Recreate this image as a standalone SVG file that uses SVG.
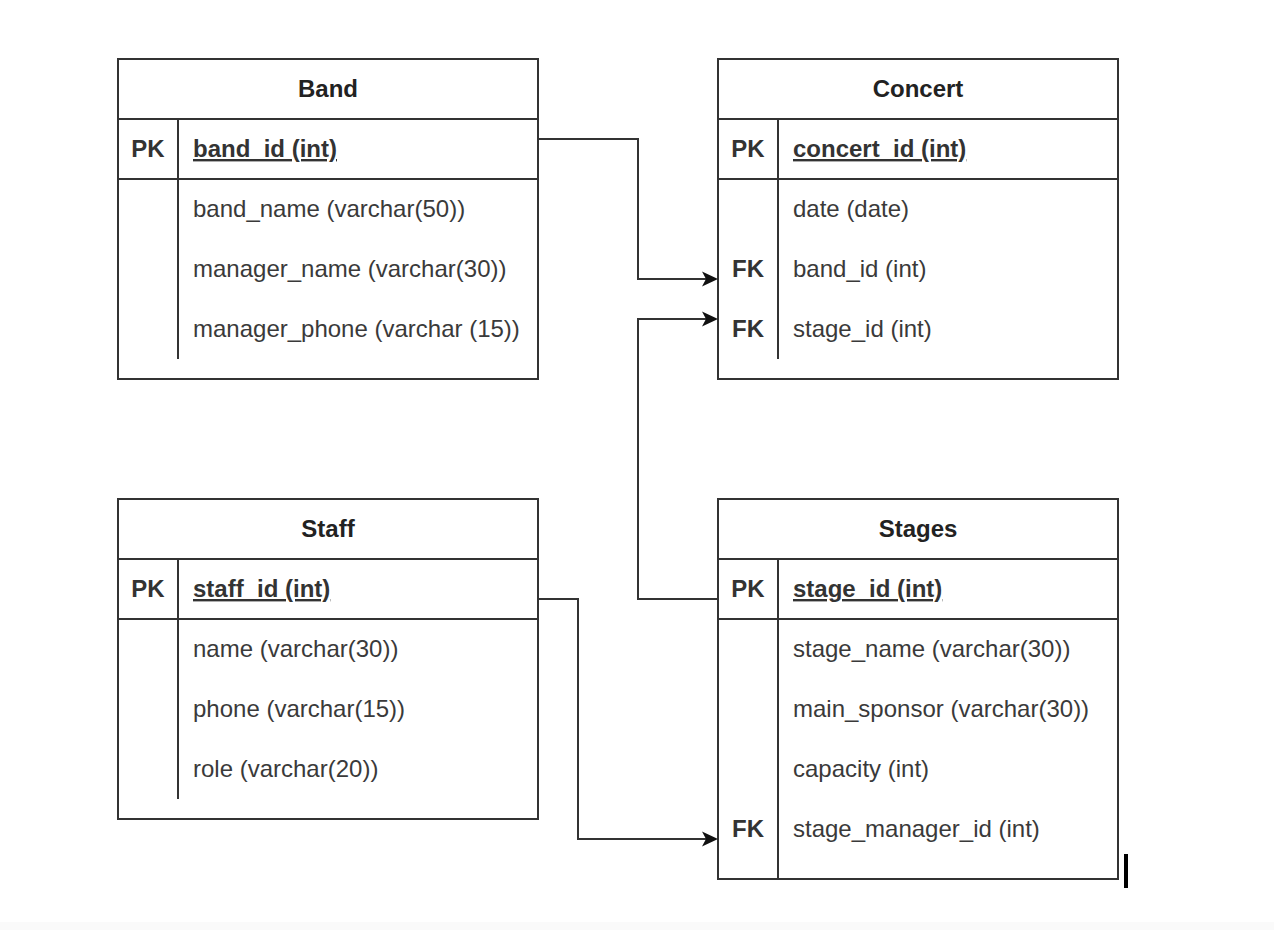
<svg xmlns="http://www.w3.org/2000/svg" width="1274" height="930" viewBox="0 0 1274 930">
  <style>
    .box { fill: #ffffff; stroke: #333333; stroke-width: 2; }
    .sep { stroke: #333333; stroke-width: 2; fill: none; }
    .title { font-family: "Liberation Sans", Arial, sans-serif; font-size: 24px; font-weight: bold; fill: #222222; text-anchor: middle; }
    .key { font-family: "Liberation Sans", Arial, sans-serif; font-size: 24px; font-weight: bold; fill: #333333; text-anchor: middle; }
    .pk { font-family: "Liberation Sans", Arial, sans-serif; font-size: 24px; font-weight: bold; fill: #333333; text-decoration: underline; }
    .field { font-family: "Liberation Sans", Arial, sans-serif; font-size: 24px; fill: #3a3a3a; }
    .link { stroke: #333333; stroke-width: 2; fill: none; }
    .head { fill: #111111; stroke: none; }
  </style>

  <rect x="0" y="0" width="1274" height="930" fill="#ffffff"/>
  <rect x="0" y="922" width="1274" height="8" fill="#fafafa"/>

  <!-- Band table -->
  <g id="band">
    <rect class="box" x="118" y="59" width="420" height="320"/>
    <line class="sep" x1="118" y1="119" x2="538" y2="119"/>
    <line class="sep" x1="118" y1="179" x2="538" y2="179"/>
    <line class="sep" x1="178" y1="119" x2="178" y2="359"/>
    <text class="title" x="328" y="97">Band</text>
    <text class="key" x="148" y="157">PK</text>
    <text class="pk" x="193" y="157">band_id (int)</text>
    <text class="field" x="193" y="217">band_name (varchar(50))</text>
    <text class="field" x="193" y="277">manager_name (varchar(30))</text>
    <text class="field" x="193" y="337">manager_phone (varchar (15))</text>
  </g>

  <!-- Concert table -->
  <g id="concert">
    <rect class="box" x="718" y="59" width="400" height="320"/>
    <line class="sep" x1="718" y1="119" x2="1118" y2="119"/>
    <line class="sep" x1="718" y1="179" x2="1118" y2="179"/>
    <line class="sep" x1="778" y1="119" x2="778" y2="359"/>
    <text class="title" x="918" y="97">Concert</text>
    <text class="key" x="748" y="157">PK</text>
    <text class="pk" x="793" y="157">concert_id (int)</text>
    <text class="field" x="793" y="217">date (date)</text>
    <text class="key" x="748" y="277">FK</text>
    <text class="field" x="793" y="277">band_id (int)</text>
    <text class="key" x="748" y="337">FK</text>
    <text class="field" x="793" y="337">stage_id (int)</text>
  </g>

  <!-- Staff table -->
  <g id="staff">
    <rect class="box" x="118" y="499" width="420" height="320"/>
    <line class="sep" x1="118" y1="559" x2="538" y2="559"/>
    <line class="sep" x1="118" y1="619" x2="538" y2="619"/>
    <line class="sep" x1="178" y1="559" x2="178" y2="799"/>
    <text class="title" x="328" y="537">Staff</text>
    <text class="key" x="148" y="597">PK</text>
    <text class="pk" x="193" y="597">staff_id (int)</text>
    <text class="field" x="193" y="657">name (varchar(30))</text>
    <text class="field" x="193" y="717">phone (varchar(15))</text>
    <text class="field" x="193" y="777">role (varchar(20))</text>
  </g>

  <!-- Stages table -->
  <g id="stages">
    <rect class="box" x="718" y="499" width="400" height="380"/>
    <line class="sep" x1="718" y1="559" x2="1118" y2="559"/>
    <line class="sep" x1="718" y1="619" x2="1118" y2="619"/>
    <line class="sep" x1="778" y1="559" x2="778" y2="879"/>
    <text class="title" x="918" y="537">Stages</text>
    <text class="key" x="748" y="597">PK</text>
    <text class="pk" x="793" y="597">stage_id (int)</text>
    <text class="field" x="793" y="657">stage_name (varchar(30))</text>
    <text class="field" x="793" y="717">main_sponsor (varchar(30))</text>
    <text class="field" x="793" y="777">capacity (int)</text>
    <text class="key" x="748" y="837">FK</text>
    <text class="field" x="793" y="837">stage_manager_id (int)</text>
  </g>

  <!-- Relationships -->
  <g id="connectors">
    <path class="link" d="M538,139 H638 V279 H706"/>
    <path class="head" d="M718,279 L702,271.5 L706,279 L702,286.5 Z"/>
    <path class="link" d="M718,599 H638 V319 H706"/>
    <path class="head" d="M718,319 L702,311.5 L706,319 L702,326.5 Z"/>
    <path class="link" d="M538,599 H578 V839 H706"/>
    <path class="head" d="M718,839 L702,831.5 L706,839 L702,846.5 Z"/>
  </g>

  <rect x="1124" y="854" width="4" height="34" fill="#000000"/>
</svg>
